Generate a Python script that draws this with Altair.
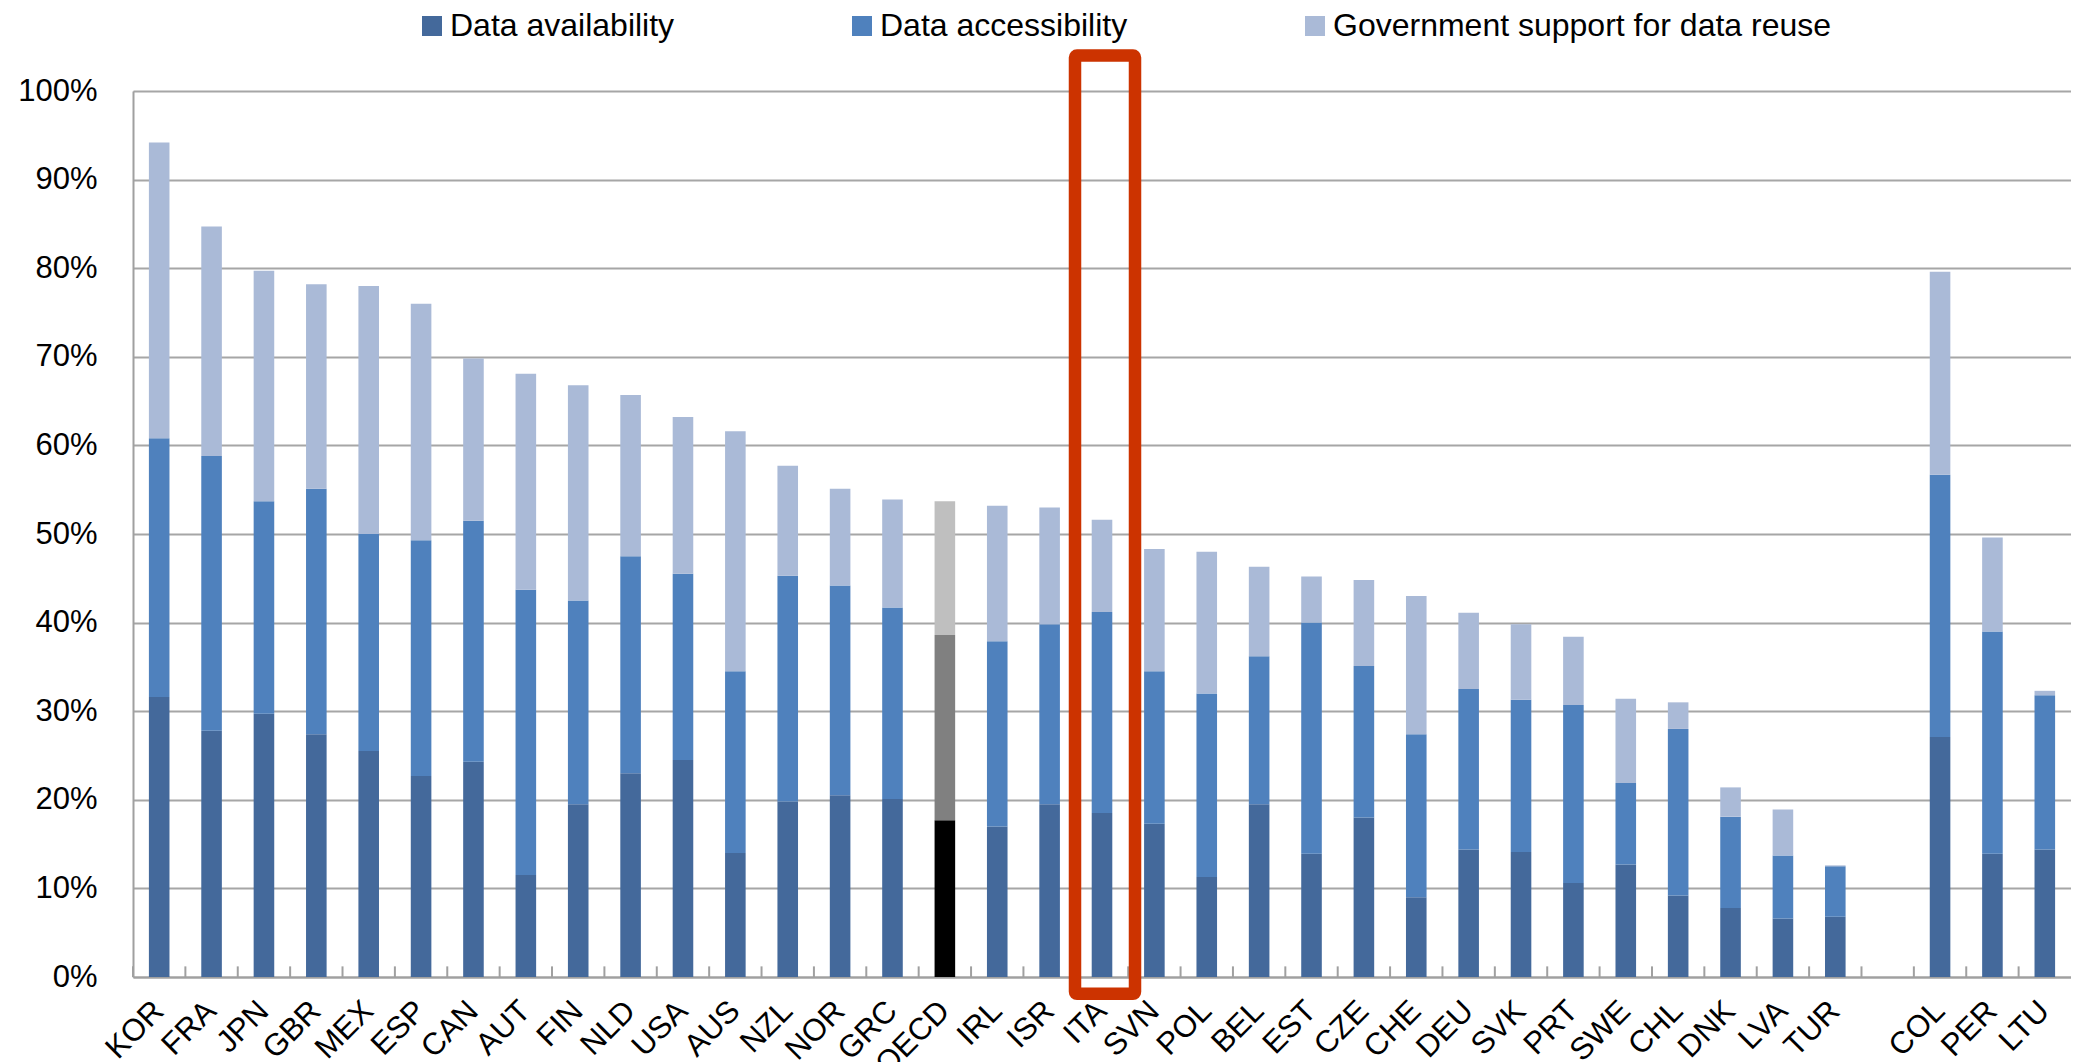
import altair as alt
import pandas as pd

countries = ["KOR", "FRA", "JPN", "GBR", "MEX", "ESP", "CAN", "AUT", "FIN", "NLD",
             "USA", "AUS", "NZL", "NOR", "GRC", "OECD", "IRL", "ISR", "ITA", "SVN",
             "POL", "BEL", "EST", "CZE", "CHE", "DEU", "SVK", "PRT", "SWE", "CHL",
             "DNK", "LVA", "TUR", " ", "COL", "PER", "LTU"]

availability = [31.6, 27.8, 29.7, 27.4, 25.5, 22.7, 24.3, 11.5, 19.5, 23.0,
                24.5, 14.0, 19.8, 20.5, 20.1, 17.7, 17.0, 19.5, 18.5, 17.3,
                11.3, 19.5, 13.9, 18.0, 9.0, 14.4, 14.1, 10.6, 12.7, 9.2,
                7.8, 6.6, 6.8, None, 27.1, 13.9, 14.4]
accessibility = [29.2, 31.0, 24.0, 27.7, 24.5, 26.6, 27.2, 32.2, 23.0, 24.5,
                 21.0, 20.5, 25.5, 23.7, 21.6, 20.9, 20.9, 20.3, 22.7, 17.2,
                 20.7, 16.7, 26.1, 17.1, 18.4, 18.1, 17.2, 20.1, 9.2, 18.8,
                 10.3, 7.1, 5.7, None, 29.6, 25.1, 17.4]
gov_support = [33.4, 25.9, 26.0, 23.1, 28.0, 26.7, 18.3, 24.4, 24.3, 18.2,
               17.7, 27.1, 12.4, 10.9, 12.2, 15.1, 15.3, 13.2, 10.4, 13.8,
               16.0, 10.1, 5.2, 9.7, 15.6, 8.6, 8.5, 7.7, 9.5, 3.0,
               3.3, 5.2, 0.1, None, 22.9, 10.6, 0.5]

series = ["Data availability", "Data accessibility", "Government support for data reuse"]
series_colors = ["#44699B", "#4F81BD", "#AABAD7"]
oecd_colors = ["#000000", "#808080", "#BFBFBF"]

highlight = ["ITA"]
y_ticks = [0, 10, 20, 30, 40, 50, 60, 70, 80, 90, 100]

rows = []
for i, c in enumerate(countries):
    for k, (s, arr) in enumerate(zip(series, [availability, accessibility, gov_support])):
        v = arr[i]
        if v is None:
            continue
        key = ("OECD " + s) if c == "OECD" else s
        rows.append({"country": c, "series": s, "key": key, "k": k, "value": v})
df = pd.DataFrame(rows)

color_domain = series + ["OECD " + s for s in series]
color_range = series_colors + oecd_colors

font = "Liberation Sans"

bars = alt.Chart(df).mark_bar().encode(
    x=alt.X("country:N", sort=countries,
            scale=alt.Scale(domain=countries, paddingInner=0.607, paddingOuter=0.3035),
            axis=alt.Axis(title=None, labelAngle=-45, labelAlign="right", labelBaseline="middle",
                          labelPadding=29, tickSize=0, labelFontSize=31, labelFont=font,
                          labelColor="#000000", domainColor="#A0A0A0", domainWidth=2,
                          grid=False, labelLimit=300)),
    y=alt.Y("value:Q", stack="zero",
            scale=alt.Scale(domain=[0, 100], nice=False, zero=True),
            axis=alt.Axis(title=None, values=y_ticks,
                          labelExpr="datum.value + '%'", labelFontSize=31, labelFont=font,
                          labelColor="#000000", labelPadding=36, tickSize=0,
                          domainColor="#A0A0A0", domainWidth=2,
                          grid=True, gridColor="#A6A6A6", gridWidth=2,
                          minExtent=125, maxExtent=125)),
    color=alt.Color("key:N",
                    scale=alt.Scale(domain=color_domain, range=color_range),
                    legend=alt.Legend(title=None, values=series, orient="none",
                                      direction="horizontal", legendX=283, legendY=-81,
                                      symbolType="square", symbolSize=400, symbolStrokeWidth=0,
                                      labelFontSize=32, labelFont=font, labelColor="#000000",
                                      labelOffset=2, columnPadding=171, labelLimit=1000)),
    order=alt.Order("k:Q", sort="ascending"),
)

tick_df = pd.DataFrame({"country": countries, "y0": [0] * len(countries), "y1": [1.2] * len(countries)})
ticks = alt.Chart(tick_df).mark_rule(color="#A0A0A0", strokeWidth=2).encode(
    x=alt.X("country:N", sort=countries, bandPosition=0,
            scale=alt.Scale(domain=countries, paddingInner=0, paddingOuter=0), axis=None),
    y=alt.Y("y0:Q"),
    y2="y1:Q",
)

box_df = pd.DataFrame({"country": highlight, "top": [104.0], "bottom": [-1.9]})
box = alt.Chart(box_df).mark_rect(fill=None, fillOpacity=0, stroke="#CC3300", strokeWidth=12.5,
                                  cornerRadius=2, width=60, xOffset=3).encode(
    x=alt.X("country:N", sort=countries,
            scale=alt.Scale(domain=countries, paddingInner=0, paddingOuter=0), axis=None),
    y=alt.Y("top:Q"),
    y2="bottom:Q",
)

chart = alt.layer(bars, ticks, box).resolve_scale(x="independent").properties(
    width=1938, height=886,
    padding={"left": 0, "top": 2, "right": 0, "bottom": 0},
).configure_view(stroke=None).configure(font=font)

chart.save("out.html", embed_options={"renderer": "svg", "actions": False})
